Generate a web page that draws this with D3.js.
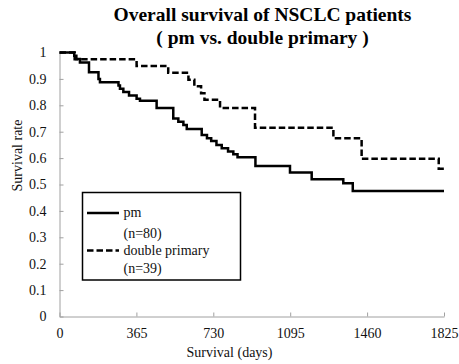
<!DOCTYPE html>
<html><head><meta charset="utf-8">
<script src="https://cdn.jsdelivr.net/npm/d3@7"></script>
<style>body{margin:0;background:#fff}svg{display:block}text{font-family:"Liberation Serif","Times New Roman",serif}</style>
</head><body><svg id="c" width="459" height="364"></svg>
<script>
const titleLines = ["Overall survival of NSCLC patients", "( pm vs. double primary )"];
const xTicks = [0, 365, 730, 1095, 1460, 1825];
const yTicks = [0, 0.1, 0.2, 0.3, 0.4, 0.5, 0.6, 0.7, 0.8, 0.9, 1];
const yTickLabels = ["0","0.1","0.2","0.3","0.4","0.5","0.6","0.7","0.8","0.9","1"];
const seriesNames = ["pm", "double primary"];
const seriesN = ["(n=80)", "(n=39)"];
const pmDays = [0, 70, 80, 97, 140, 185, 192, 280, 287, 303, 330, 366, 382, 461, 540, 564, 588, 604, 675, 700, 720, 745, 770, 800, 825, 845, 930, 1094, 1197, 1347, 1392, 1825];
const pmSurv = [1, 0.9875, 0.975, 0.9625, 0.925, 0.9, 0.8875, 0.875, 0.8625, 0.85, 0.8375, 0.825, 0.8175, 0.79, 0.75, 0.7375, 0.725, 0.71, 0.6875, 0.675, 0.665, 0.65, 0.6375, 0.625, 0.615, 0.603, 0.57, 0.545, 0.52, 0.505, 0.475, 0.475];
const dpDays = [0, 72, 366, 516, 612, 640, 672, 688, 762, 928, 1300, 1434, 1800, 1825];
const dpSurv = [1, 0.974, 0.949, 0.923, 0.897, 0.872, 0.846, 0.821, 0.79, 0.715, 0.675, 0.598, 0.56, 0.56];

const svg = d3.select("#c");
const x = d3.scaleLinear().domain([0, 1825]).range([59.5, 444]);
const y = d3.scaleLinear().domain([0, 1]).range([316.5, 52.5]);

// title
svg.selectAll("text.title").data(titleLines).enter().append("text")
  .attr("x", 262.5).attr("y", (d, i) => 21 + i * 22.5)
  .attr("text-anchor", "middle").attr("font-size", 19.5).attr("font-weight", "bold")
  .attr("fill", "#000").text(d => d);

// axes
const xa = svg.append("g").attr("transform", "translate(0,316.5)")
  .call(d3.axisBottom(x).tickValues(xTicks).tickFormat(d3.format("d")).tickSizeInner(-4).tickSizeOuter(0).tickPadding(12));
const ya = svg.append("g").attr("transform", "translate(59.5,0)")
  .call(d3.axisLeft(y).tickValues(yTicks).tickFormat((d, i) => yTickLabels[i]).tickSizeInner(-4).tickSizeOuter(0).tickPadding(13));
[xa, ya].forEach(a => {
  a.select(".domain").attr("stroke", "#a0a0a0").attr("stroke-width", 1);
  a.selectAll(".tick line").attr("stroke", "#a0a0a0");
  a.selectAll(".tick text").attr("font-size", 14).attr("fill", "#111")
   .attr("font-family", "Liberation Serif");
});

// axis titles
svg.append("text").attr("x", 229.5).attr("y", 357).attr("text-anchor", "middle")
  .attr("font-size", 14).attr("fill", "#111").text("Survival (days)");
svg.append("text").attr("transform", "translate(22,155.5) rotate(-90)").attr("text-anchor", "middle")
  .attr("font-size", 14).attr("fill", "#111").text("Survival rate");

// curves
const line = d3.line().x(d => x(d[0])).y(d => y(d[1])).curve(d3.curveStepAfter);
const pm = pmDays.map((d, i) => [d, pmSurv[i]]);
const dp = dpDays.map((d, i) => [d, dpSurv[i]]);
svg.append("path").datum(dp).attr("d", line).attr("fill", "none").attr("stroke", "#000")
  .attr("stroke-width", 2.5).attr("stroke-dasharray", "6.5,3");
svg.append("path").datum(pm).attr("d", line).attr("fill", "none").attr("stroke", "#000")
  .attr("stroke-width", 2.5);

// legend
const lg = svg.append("g");
lg.append("rect").attr("x", 82.5).attr("y", 192.5).attr("width", 158).attr("height", 87.5)
  .attr("fill", "#fff").attr("stroke", "#000").attr("stroke-width", 1.5);
const lyLine = [213, 250.5];
const dashes = [null, "6.5,3"];
seriesNames.forEach((n, i) => {
  lg.append("line").attr("x1", 87).attr("x2", 119).attr("y1", lyLine[i]).attr("y2", lyLine[i])
    .attr("stroke", "#000").attr("stroke-width", 2.5).attr("stroke-dasharray", dashes[i]);
  lg.append("text").attr("x", 123.5).attr("y", i === 0 ? 217 : 255).attr("font-size", 14).attr("fill", "#111").text(n);
  lg.append("text").attr("x", 123.5).attr("y", i === 0 ? 237.5 : 273).attr("font-size", 14).attr("fill", "#111").text(seriesN[i]);
});
</script></body></html>
